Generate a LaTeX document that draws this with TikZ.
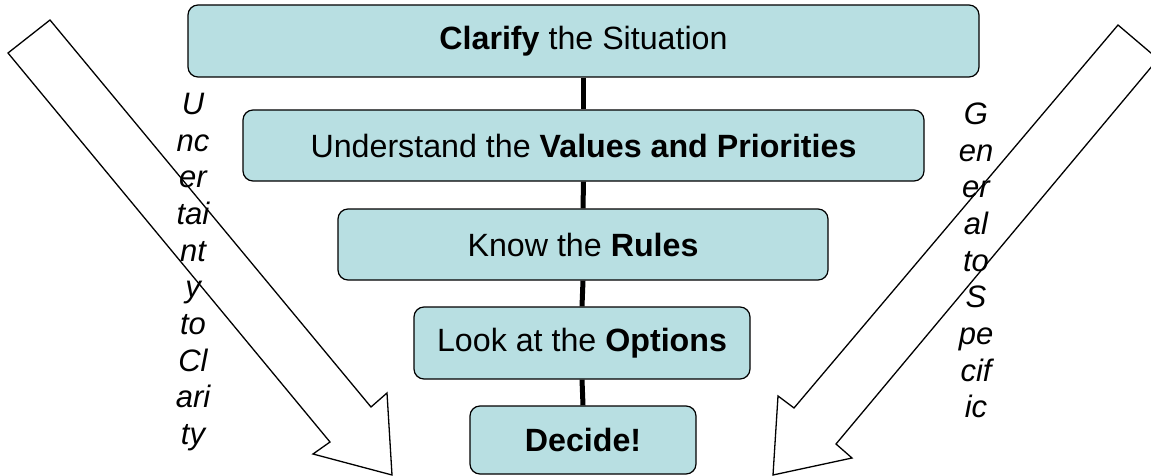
\documentclass[tikz,border=0pt]{standalone}
\usepackage{fontspec}
\setmainfont{Liberation Sans}
\begin{document}
\begin{tikzpicture}[x=1pt,y=-1pt,
  stepbox/.style={draw=black,line width=1.2pt,fill=boxblue,rounded corners=10pt,
    inner sep=0pt,font=\fontsize{32.2}{36}\selectfont},
  link/.style={line width=5pt,draw=black},
  bigarrow/.style={draw=black,line width=1.3pt,fill=white,line join=miter},
  sidetext/.style={font=\fontsize{31}{36.7}\selectfont\itshape,align=center,
    inner sep=0pt,anchor=north}]
\definecolor{boxblue}{RGB}{184,223,226}
\useasboundingbox (0,0) rectangle (1151,476);

% hollow block arrows pointing down towards the decision
\draw[bigarrow] (8,53) -- (50,20) -- (371,407) -- (387,393) -- (392,475)
  -- (313,454) -- (330,442) -- cycle;
\draw[bigarrow] (1118,25) -- (1158,59) -- (836,444) -- (852,458) -- (773,475)
  -- (778,396) -- (794,408) -- cycle;

% the five steps, narrowing as they go down
\node[stepbox,minimum width=791pt,minimum height=72pt] (s1) at (583.5,41)
  {\textbf{Clarify} the Situation};
\node[stepbox,minimum width=681pt,minimum height=71pt] (s2) at (583.5,145.5)
  {Understand the \textbf{Values and Priorities}};
\node[stepbox,minimum width=490pt,minimum height=71pt] (s3) at (583,244.5)
  {Know the \textbf{Rules}};
\node[stepbox,minimum width=336pt,minimum height=72pt] (s4) at (582,343)
  {Look at the \textbf{Options}};
\node[stepbox,minimum width=226pt,minimum height=68pt] (s5) at (583,440)
  {\textbf{Decide!}};

% connectors between the steps
\draw[link] (s1.south) -- (s2.north);
\draw[link] (s2.south) -- (s3.north);
\draw[link] (s3.south) -- (s4.north);
\draw[link] (s4.south) -- (s5.north);

% labels running down beside the arrows
\node[sidetext] (left) at (193,92.8)
  {U\\nc\\er\\tai\\nt\\y\\to\\Cl\\ari\\ty};
\node[sidetext] (right) at (976,102.5)
  {G\\en\\er\\al\\to\\S\\pe\\cif\\ic};
\end{tikzpicture}
\end{document}
